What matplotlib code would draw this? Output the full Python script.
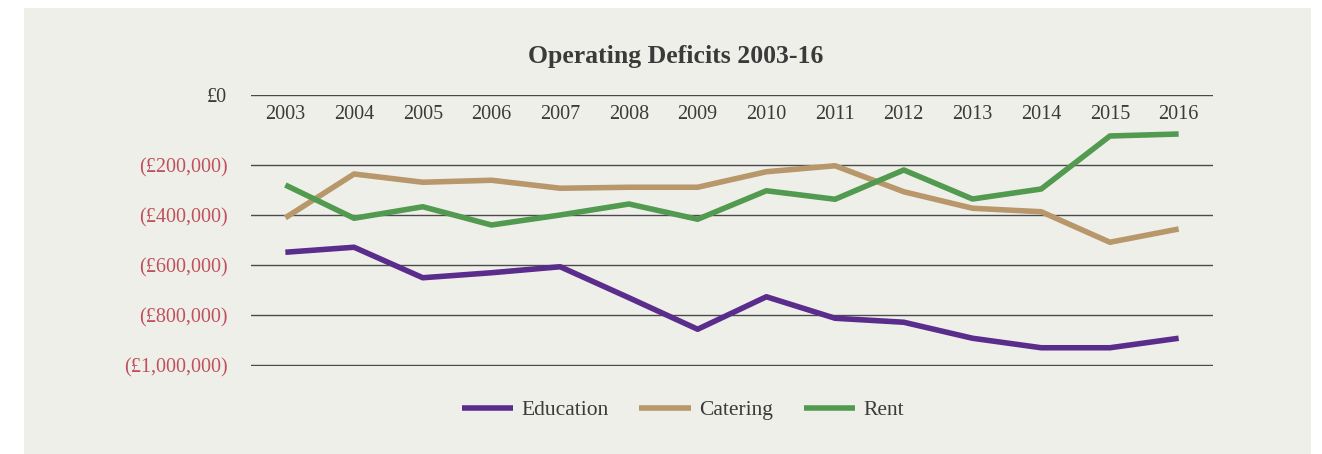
import matplotlib.pyplot as plt
from matplotlib.patches import Rectangle

years = list(range(2003, 2017))
education = [-549000, -529000, -651000, -631000, -607000, -731000, -857000,
             -727000, -813000, -829000, -893000, -931000, -931000, -893000]
catering = [-411000, -236000, -269000, -261000, -293000, -289000, -289000,
            -227000, -203000, -307000, -373000, -387000, -509000, -456000]
rent = [-280000, -413000, -367000, -440000, -400000, -356000, -417000,
        -303000, -337000, -220000, -336000, -296000, -84000, -76000]

ytick_vals = [-1000000, -800000, -600000, -400000, -200000, 80000]
ytick_labels = ['(£1,000,000)', '(£800,000)', '(£600,000)', '(£400,000)', '(£200,000)', '£0']

bg = '#efefea'
txt = '#3a3a3a'
red = '#c0505c'
plt.rcParams['font.family'] = ['Liberation Serif', 'DejaVu Serif']

fig = plt.figure(figsize=(13.22, 4.54), dpi=100, facecolor='white')
fig.patches.append(Rectangle((24 / 1322, 0), 1287 / 1322, 446 / 454,
                             transform=fig.transFigure, facecolor=bg,
                             edgecolor='none', zorder=-10))

ax = fig.add_axes([251 / 1322, 1 - 366 / 454, 962 / 1322, 271 / 454])
ax.patch.set_alpha(0)

ax.plot(years, education, color='#5a2d8c', lw=4, label='Education', solid_capstyle='butt')
ax.plot(years, catering, color='#b8976b', lw=4, label='Catering', solid_capstyle='butt')
ax.plot(years, rent, color='#529a4f', lw=4, label='Rent', solid_capstyle='butt')

ax.set_xlim(2002.5, 2016.5)
ax.set_ylim(-1004000, 80000)
ax.set_yticks(ytick_vals)
ax.set_yticklabels(ytick_labels, fontsize=14.5)
for lab in ax.get_yticklabels():
    lab.set_color(red if lab.get_text().startswith('(') else txt)
ax.tick_params(axis='y', length=0, pad=17)
ax.yaxis.grid(True, color='#4a4a4a', lw=1)
ax.set_axisbelow(True)

ax.set_xticks(years)
ax.set_xticklabels([str(y) for y in years], fontsize=14.5, color=txt)
ax.xaxis.set_ticks_position('top')
ax.tick_params(axis='x', length=0, labeltop=True, labelbottom=False, pad=-21)

for s in ax.spines.values():
    s.set_visible(False)

fig.text(676 / 1322, 1 - 57 / 454, 'Operating Deficits 2003-16', ha='center', va='center',
         fontsize=18.5, fontweight='bold', color=txt)

fig.legend(loc='center', bbox_to_anchor=(683 / 1322, 1 - 410 / 454), ncol=3, frameon=False,
           fontsize=15.5, handlelength=2.4, handletextpad=0.4, columnspacing=1.4,
           labelcolor=txt)

fig.savefig('out.png', dpi=100, facecolor='white')
